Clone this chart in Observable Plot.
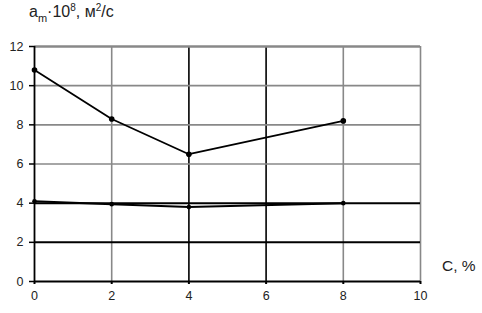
<!DOCTYPE html>
<html><head><meta charset="utf-8">
<script src="https://cdn.jsdelivr.net/npm/d3@7"></script>
<script src="https://cdn.jsdelivr.net/npm/@observablehq/plot@0.6"></script>
<style>
body{margin:0;background:#fff;font-family:"Liberation Sans",Arial,sans-serif;}
#wrap{position:relative;width:482px;height:313px;}
#title{position:absolute;left:29px;top:2px;font-size:16px;color:#222;}
#title sub{font-size:11px;}
#title sup{font-size:10px;}
#xlabel{position:absolute;left:442px;top:257px;font-size:15.5px;color:#222;}
</style></head><body>
<div id="wrap"><div id="chart"></div>
<div id="title">a<sub>m</sub>·10<sup>8</sup>, м<sup>2</sup>/с</div>
<div id="xlabel">С, %</div></div>
<script>
const C = [0, 2, 4, 8];
const series1 = [10.8, 8.3, 6.5, 8.2];
const series2 = [4.1, 3.95, 3.8, 4.0];
const xTicks = [0, 2, 4, 6, 8, 10];
const yTicks = [0, 2, 4, 6, 8, 10, 12];

const d1 = C.map((c, i) => ({c, v: series1[i]}));
const d2 = C.map((c, i) => ({c, v: series2[i]}));
const darkX = new Set([4, 6]);
const darkY = new Set([2, 4]);

const plot = Plot.plot({
  width: 482, height: 313,
  marginLeft: 34, marginRight: 62, marginTop: 46, marginBottom: 32,
  style: {fontFamily: "Liberation Sans, Arial, sans-serif", fontSize: "12.5px", color: "#222", background: "#fff"},
  x: {domain: [0, 10], label: null},
  y: {domain: [0, 12], label: null},
  marks: [
    Plot.ruleX(xTicks.filter(t => t > 0), {stroke: d => darkX.has(d) ? "#000" : "#888", strokeWidth: 1.6, strokeOpacity: 1}),
    Plot.ruleY(yTicks.filter(t => t > 0), {stroke: d => darkY.has(d) ? "#000" : "#888", strokeWidth: d => d === 12 ? 2.5 : (darkY.has(d) ? 2 : 1.6), strokeOpacity: 1}),
    Plot.ruleX([0], {stroke: "#000", strokeWidth: 1.8}),
    Plot.ruleY([0], {stroke: "#000", strokeWidth: 1.8}),
    Plot.axisX({ticks: xTicks, tickSize: 3, tickPadding: 7, stroke: "#000", strokeWidth: 2, fill: "#222", label: null}),
    Plot.axisY({ticks: yTicks, tickSize: 5, tickPadding: 6, stroke: "#000", strokeWidth: 1.5, fill: "#222", label: null}),
    Plot.line(d1, {x: "c", y: "v", stroke: "#000", strokeWidth: 1.8}),
    Plot.dot(d1, {x: "c", y: "v", r: 2.8, fill: "#000", stroke: "none"}),
    Plot.line(d2, {x: "c", y: "v", stroke: "#000", strokeWidth: 2}),
    Plot.dot(d2, {x: "c", y: "v", r: 2.3, fill: "#000", stroke: "none"})
  ]
});
document.getElementById("chart").appendChild(plot);
</script>
</body></html>
